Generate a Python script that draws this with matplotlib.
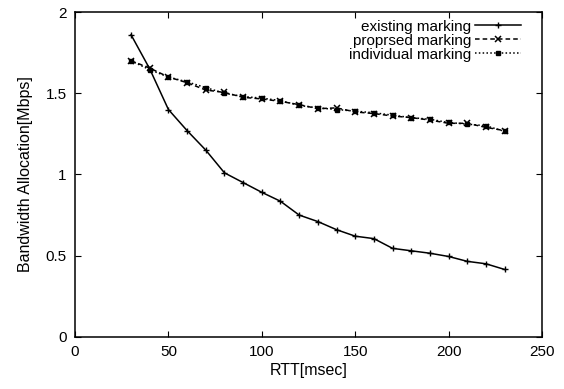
import matplotlib
matplotlib.use("Agg")
import matplotlib.pyplot as plt

plt.rcParams["font.family"] = ["Liberation Sans", "DejaVu Sans"]
plt.rcParams["font.size"] = 11

# RTT values (msec)
rtt = [30, 40, 50, 60, 70, 80, 90, 100, 110, 120, 130, 140, 150, 160, 170, 180, 190, 200, 210, 220, 230]

existing = [1.86, 1.65, 1.40, 1.27, 1.15, 1.01, 0.95, 0.89, 0.835, 0.75, 0.71, 0.66,
            0.62, 0.605, 0.545, 0.53, 0.515, 0.495, 0.465, 0.45, 0.415]
proposed = [1.70, 1.655, 1.60, 1.565, 1.52, 1.505, 1.475, 1.465, 1.45, 1.43, 1.405, 1.41,
            1.385, 1.375, 1.36, 1.35, 1.335, 1.315, 1.315, 1.29, 1.27]
individual = [1.70, 1.645, 1.60, 1.57, 1.535, 1.50, 1.48, 1.47, 1.455, 1.425, 1.41, 1.40,
              1.39, 1.38, 1.365, 1.35, 1.34, 1.32, 1.31, 1.30, 1.265]

labels = ["existing marking", "proprsed marking", "individual marking"]

fig = plt.figure(figsize=(5.64, 3.89), dpi=100)
ax = fig.add_axes([0.133, 0.134, 0.828, 0.835])

ax.plot(rtt, existing, color="black", linestyle="-", linewidth=1.1,
        marker="+", markersize=4, markeredgewidth=1.0, label=labels[0])
ax.plot(rtt, proposed, color="black", linestyle=(0, (3, 2)), linewidth=1.1,
        marker="x", markersize=4, markeredgewidth=1.1, label=labels[1])
ax.plot(rtt, individual, color="black", linestyle=(0, (1, 1.5)), linewidth=1.1,
        marker="s", markersize=3, label=labels[2])

ax.set_xlim(0, 250)
ax.set_ylim(0, 2)
ax.set_xticks([0, 50, 100, 150, 200, 250])
ax.set_yticks([0, 0.5, 1, 1.5, 2])
ax.set_yticklabels(["0", "0.5", "1", "1.5", "2"])
ax.tick_params(direction="in", top=True, right=True, length=4, width=0.8,
               labelsize=11, pad=6)
for s in ax.spines.values():
    s.set_linewidth(1.1)

ax.set_xlabel("RTT[msec]", fontsize=11.5, labelpad=3)
ax.set_ylabel("Bandwidth Allocation[Mbps]", fontsize=11.5, labelpad=9)

ax.legend(loc="upper right", bbox_to_anchor=(0.975, 1.005), frameon=False,
          markerfirst=False, handlelength=3.0, handletextpad=0.25,
          labelspacing=0.0, borderpad=0.1, fontsize=11)

fig.savefig("out.png", dpi=100)
